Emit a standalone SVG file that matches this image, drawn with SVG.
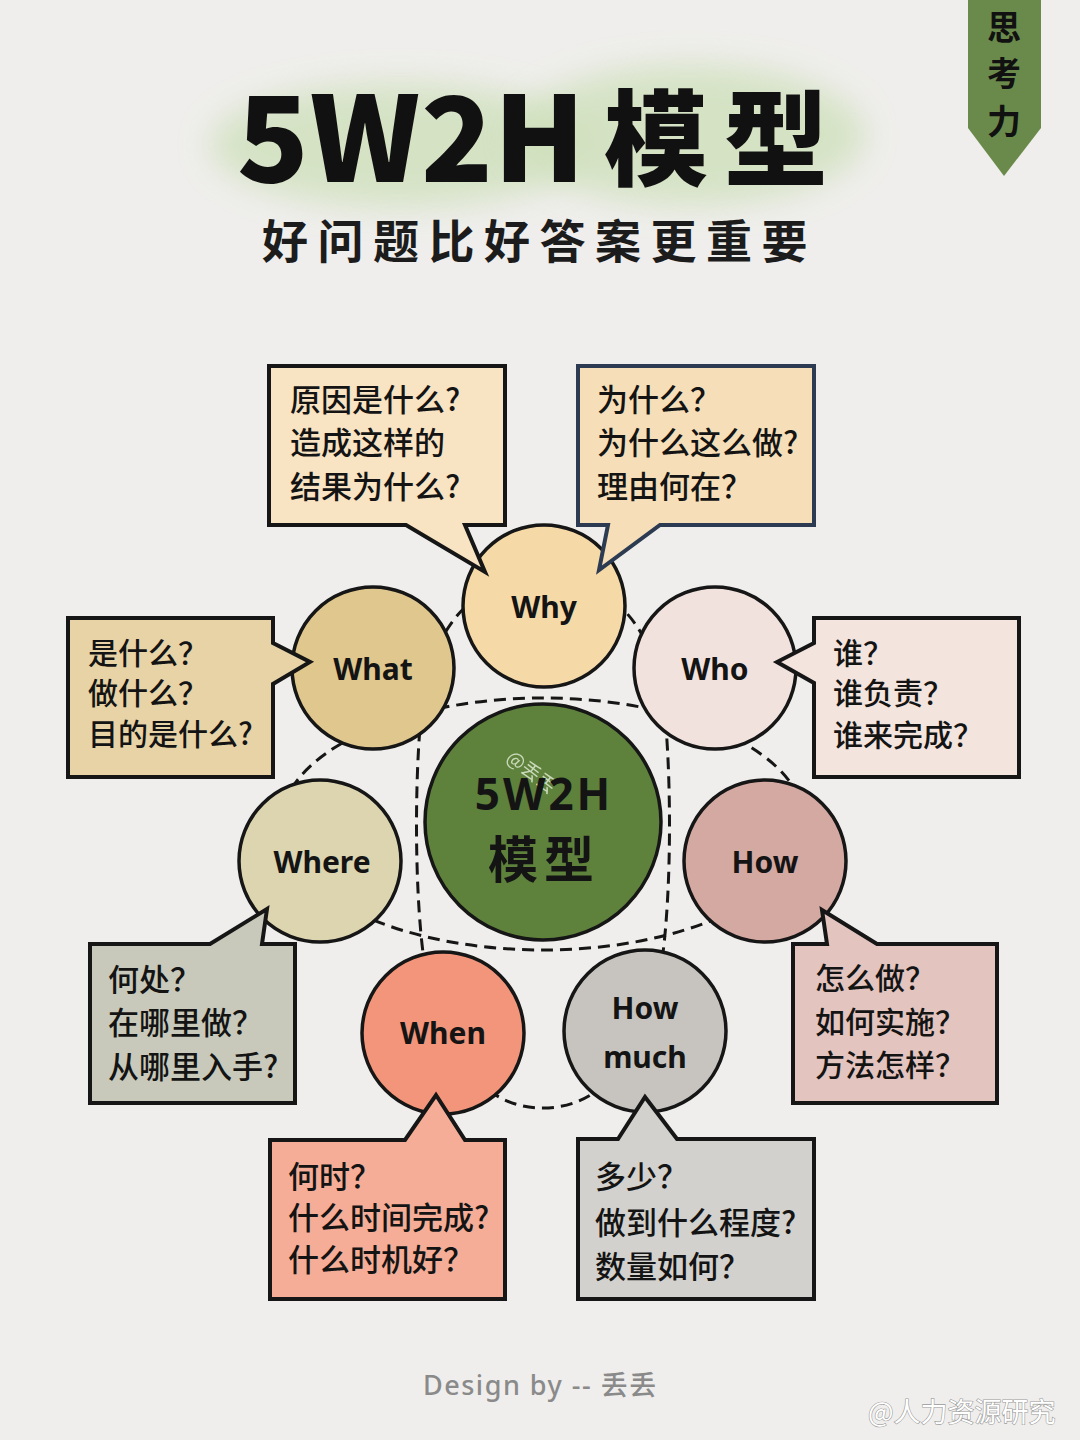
<svg xmlns="http://www.w3.org/2000/svg" width="1080" height="1440" viewBox="0 0 1080 1440">
<defs>
<filter id="blur" x="-20%" y="-50%" width="140%" height="200%"><feGaussianBlur stdDeviation="16"/></filter>
<style>
.bg{fill:#efeeec}
.node circle{stroke:#161616;stroke-width:3.5}
.box{stroke:#161616;stroke-width:4;stroke-linejoin:miter}
.dash{fill:none;stroke:#161616;stroke-width:3;stroke-dasharray:12 7}
.lbl{font-family:"Noto Sans","Liberation Sans",sans-serif;font-weight:700;font-size:30px;fill:#141414;text-anchor:middle}
.q{font-family:"Noto Sans CJK SC","Noto Sans",sans-serif;font-weight:500;font-size:31px;fill:#141414}
.q30{font-size:30px}
</style>
</defs>
<rect class="bg" x="0" y="0" width="1080" height="1440"/>

<!-- title -->
<g id="title">
<ellipse cx="400" cy="145" rx="190" ry="62" fill="#cfe0bb" opacity="0.8" filter="url(#blur)"/>
<ellipse cx="690" cy="135" rx="175" ry="70" fill="#cfe0bb" opacity="0.8" filter="url(#blur)"/>
<text x="237" y="182" font-family="Noto Sans CJK SC, Noto Sans, sans-serif" font-weight="900" font-size="118" textLength="348" lengthAdjust="spacing" fill="#111">5W2H</text>
<text x="604" y="178" font-family="Noto Sans CJK SC, sans-serif" font-weight="900" font-size="104" letter-spacing="16" fill="#111">模型</text>
<text x="262" y="258" font-family="Noto Sans CJK SC, sans-serif" font-weight="700" font-size="46" letter-spacing="9.5" fill="#1c1c1c">好问题比好答案更重要</text>
</g>

<!-- tag -->
<g id="tag">
<path d="M968,0 H1041 V128 L1004,176 L968,128 Z" fill="#6a8a4b"/>
<text x="1004" y="40" font-family="Noto Sans CJK SC, sans-serif" font-weight="700" font-size="34" text-anchor="middle" fill="#111">思</text>
<text x="1004" y="86" font-family="Noto Sans CJK SC, sans-serif" font-weight="700" font-size="34" text-anchor="middle" fill="#111">考</text>
<text x="1004" y="134" font-family="Noto Sans CJK SC, sans-serif" font-weight="700" font-size="34" text-anchor="middle" fill="#111">力</text>
</g>

<!-- connectors -->
<g id="connectors">
<ellipse class="dash" cx="543" cy="824" rx="262" ry="126"/>
<path class="dash" d="M543,578 C600,578 645,610 662,690 C672,760 672,890 662,960 C645,1060 600,1108 543,1108 C486,1108 441,1060 424,960 C414,890 414,760 424,690 C441,610 486,578 543,578 Z"/>
</g>

<!-- circles -->
<g id="center" class="node"><circle cx="543" cy="822" r="118" fill="#5e823c"/>
<text x="505" y="760" transform="rotate(38 505 760)" font-family="Noto Sans CJK SC, sans-serif" font-size="19" fill="#dfe9d2" opacity="0.85">@丢丢</text>
<text x="544" y="810" font-family="Noto Sans, sans-serif" font-weight="700" font-size="44" letter-spacing="3" text-anchor="middle" fill="#141414">5W2H</text>
<text x="544" y="878" font-family="Noto Sans CJK SC, sans-serif" font-weight="700" font-size="50" letter-spacing="6" text-anchor="middle" fill="#141414">模型</text>
</g>
<g id="why" class="node"><circle cx="544" cy="606" r="81" fill="#f5d9a7"/><text class="lbl" x="544" y="618">Why</text></g>
<g id="what" class="node"><circle cx="373" cy="668" r="81" fill="#dfc78d"/><text class="lbl" x="373" y="680">What</text></g>
<g id="who" class="node"><circle cx="715" cy="668" r="81" fill="#f2e2dd"/><text class="lbl" x="715" y="680">Who</text></g>
<g id="where" class="node"><circle cx="320" cy="861" r="81" fill="#dcd5b0"/><text class="lbl" x="322" y="873">Where</text></g>
<g id="how" class="node"><circle cx="765" cy="861" r="81" fill="#d4a9a2"/><text class="lbl" x="765" y="873">How</text></g>
<g id="when" class="node"><circle cx="443" cy="1033" r="81" fill="#f3957a"/><text class="lbl" x="443" y="1044">When</text></g>
<g id="howmuch" class="node"><circle cx="645" cy="1031" r="81" fill="#c7c4bf"/><text class="lbl" x="645" y="1019">How</text><text class="lbl" x="645" y="1068">much</text></g>

<!-- question boxes -->
<g id="box-why-1">
<path class="box" d="M269,366 H505 V525 H465 L485,572 L406,525 H269 Z" fill="#f8e3c3"/>
<text class="q" x="290" y="411">原因是什么?</text>
<text class="q" x="290" y="454">造成这样的</text>
<text class="q" x="290" y="498">结果为什么?</text>
</g>
<g id="box-why-2">
<path class="box" d="M578,366 H814 V525 H660 L599,570 L608,525 H578 Z" fill="#f6dfb8" style="stroke:#2c3b52"/>
<text class="q" x="597" y="411">为什么？</text>
<text class="q" x="597" y="454">为什么这么做?</text>
<text class="q" x="597" y="498">理由何在？</text>
</g>
<g id="box-what">
<path class="box" d="M68,618 H273 V643 L310,662 L273,684 V777 H68 Z" fill="#e7d3a6"/>
<text class="q q30" x="88" y="664">是什么？</text>
<text class="q q30" x="88" y="704">做什么？</text>
<text class="q q30" x="88" y="745">目的是什么?</text>
</g>
<g id="box-who">
<path class="box" d="M814,618 H1019 V777 H814 V683 L777,662 L814,643 Z" fill="#f3e4de"/>
<text class="q q30" x="833" y="664">谁？</text>
<text class="q q30" x="833" y="704">谁负责？</text>
<text class="q q30" x="833" y="746">谁来完成？</text>
</g>
<g id="box-where">
<path class="box" d="M90,944 H210 L267,909 L262,944 H295 V1103 H90 Z" fill="#c8c9ba"/>
<text class="q" x="108" y="991">何处？</text>
<text class="q" x="108" y="1034">在哪里做？</text>
<text class="q" x="108" y="1078">从哪里入手?</text>
</g>
<g id="box-how">
<path class="box" d="M793,944 H827 L822,910 L877,944 H997 V1103 H793 Z" fill="#e3c4be"/>
<text class="q q30" x="815" y="989">怎么做？</text>
<text class="q q30" x="815" y="1033">如何实施？</text>
<text class="q q30" x="815" y="1076">方法怎样？</text>
</g>
<g id="box-when">
<path class="box" d="M270,1140 H405 L436,1095 L465,1140 H505 V1299 H270 Z" fill="#f5ad97"/>
<text class="q" x="288" y="1188">何时？</text>
<text class="q" x="288" y="1229">什么时间完成?</text>
<text class="q" x="288" y="1271">什么时机好？</text>
</g>
<g id="box-howmuch">
<path class="box" d="M578,1139 H618 L645,1097 L677,1139 H814 V1299 H578 Z" fill="#d3d1ce"/>
<text class="q" x="595" y="1188">多少？</text>
<text class="q" x="595" y="1234">做到什么程度?</text>
<text class="q" x="595" y="1278">数量如何？</text>
</g>

<!-- footer -->
<g id="footer">
<text x="423" y="1395" font-family="Noto Sans, Noto Sans CJK SC, sans-serif" font-weight="500" font-size="27" letter-spacing="1.5" fill="#8a8a8a">Design by -- 丢丢</text>
<text x="868" y="1422" font-family="Noto Sans CJK SC, sans-serif" font-size="27" fill="#ffffff" stroke="#9a9a9a" stroke-width="1.2" paint-order="stroke">@人力资源研究</text>
</g>
</svg>
